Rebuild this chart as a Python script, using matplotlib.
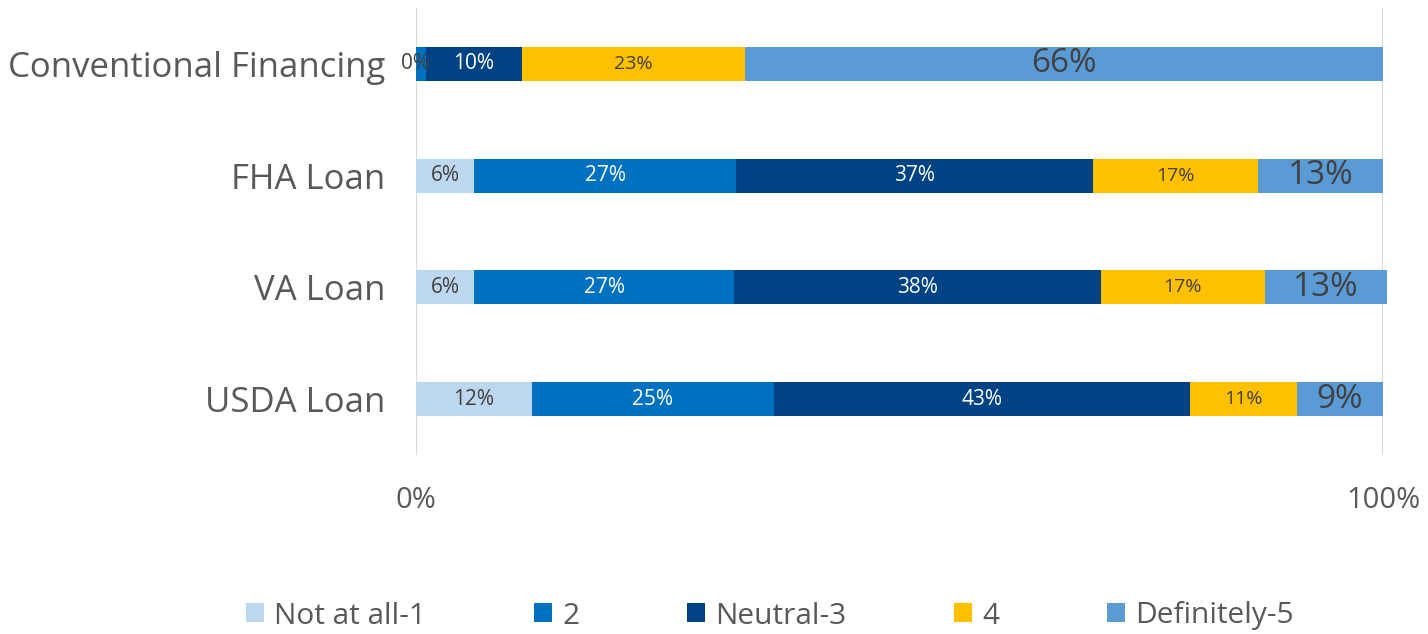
import matplotlib
matplotlib.use("Agg")
import matplotlib.pyplot as plt
from matplotlib.patches import Patch

plt.rcParams["font.family"] = ["Open Sans", "DejaVu Sans"]

categories = ["Conventional Financing", "FHA Loan", "VA Loan", "USDA Loan"]
series = ["Not at all-1", "2", "Neutral-3", "4", "Definitely-5"]
not_at_all = [0.0, 6.0, 6.0, 12.0]
two = [1.0, 27.1, 26.9, 25.0]
neutral = [10.0, 36.9, 37.9, 43.0]
four = [23.0, 17.1, 17.0, 11.1]
definitely = [66.0, 12.9, 12.6, 8.9]
values = [not_at_all, two, neutral, four, definitely]

colors = ["#BDD7EE", "#0070C0", "#004385", "#FFC000", "#5B9BD5"]
label_colors = ["#404040", "white", "white", "#404040", "#404040"]
label_sizes = [15, 15, 15, 14, 24]
GRAY = "#595959"

fig = plt.figure(figsize=(14.28, 6.34), dpi=100)
ax = fig.add_axes([416 / 1428, 1 - 455 / 634, (1383 - 416) / 1428, 447 / 634])

ypos = list(range(len(categories)))
left = [0.0] * len(categories)
for name, vals, c, tc, fs in zip(series, values, colors, label_colors, label_sizes):
    ax.barh(ypos, vals, left=left, height=0.305, color=c, label=name, clip_on=False)
    for y, l, v in zip(ypos, left, vals):
        if 0 < v < 2:
            continue  # too thin to carry its own label
        ax.text(l + v / 2, y, f"{v:.0f}%", ha="center", va="center",
                color=tc, fontsize=fs)
    left = [a + b for a, b in zip(left, vals)]

ax.set_xlim(0, 100)
ax.set_ylim(len(categories) - 0.5, -0.5)
ax.set_yticks(ypos)
ax.set_yticklabels(categories, fontsize=25, color=GRAY)
ax.set_xticks([0, 100])
ax.set_xticklabels(["0%", "100%"], fontsize=21, color=GRAY)
ax.tick_params(axis="y", length=0, pad=22)
ax.tick_params(axis="x", length=0, pad=22)
for s in ax.spines.values():
    s.set_visible(False)
ax.grid(axis="x", color="#D9D9D9", linewidth=1.5)
ax.set_axisbelow(True)

handles = [Patch(facecolor=c, edgecolor="none") for c in colors]
fig.legend(handles, series, loc="center", bbox_to_anchor=(770 / 1428, 1 - 616 / 634),
           ncol=5, frameon=False, fontsize=21.5, labelcolor=GRAY,
           handlelength=0.6, handleheight=0.6, handletextpad=0.35,
           columnspacing=3.6)

fig.savefig("out.png", dpi=100)
